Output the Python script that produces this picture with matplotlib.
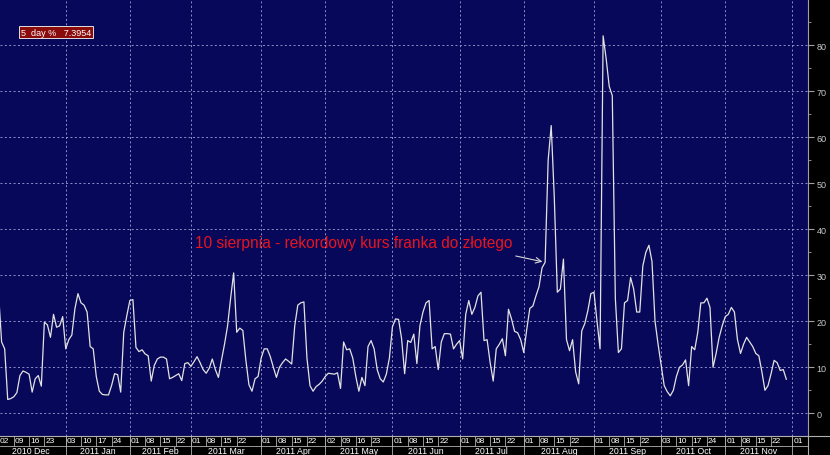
import matplotlib
matplotlib.use('Agg')
import matplotlib.pyplot as plt
from matplotlib.lines import Line2D
import numpy as np

plt.rcParams['font.family'] = ['Liberation Sans', 'DejaVu Sans']

# dane: 5-dniowa zmiennosc (%) w dniach roboczych od 2010-12-02
start_date = '2010-12-02'
vol_5d = [
    26, 15.5, 14, 3, 3.2, 3.6, 4.5, 8.2, 9.2, 8.9, 8.5, 4.6, 7.5, 8.2, 5.9, 19.8, 19.2, 16.5, 21.5, 18.7,
    19, 21, 14, 16, 17, 22.7, 26, 24, 23.5, 22, 14.5, 14, 8, 4.8, 4.1, 4, 4, 6, 8.6, 8.4,
    4.6, 17.6, 21.2, 24.5, 24.7, 14.3, 13.4, 13.8, 12.9, 12.5, 7, 10.4, 11.8, 12.2, 12.2, 11.8, 7.5, 7.8, 8.2, 8.6,
    7.1, 10.8, 11, 10.2, 11.2, 12.3, 11, 9.5, 8.7, 9.8, 11.8, 9.5, 7.8, 11.5, 15, 19, 25, 30.5, 17.6, 18.5,
    18, 11.5, 6.2, 4.8, 7.5, 8, 12, 14, 14, 12.3, 10, 7.8, 10, 11, 11.8, 11.3, 10.7, 19, 23.5, 24,
    24.2, 12, 6, 4.8, 5.8, 6.3, 7, 8, 8.7, 8.6, 8.5, 8.8, 5.4, 15.5, 13.8, 14, 12, 8, 4.8, 7.8,
    6, 14.5, 15.8, 14, 9.5, 7.5, 6.8, 8.5, 12, 18.8, 20.5, 20.4, 16.2, 8.6, 15.8, 15.4, 17.2, 10.8, 19, 22,
    24, 24.5, 14, 14.5, 9.5, 15.5, 17.3, 17.3, 17.2, 14, 15, 15.8, 11.8, 21.5, 24.5, 21.5, 23, 25.5, 26.3, 15.8,
    16, 11, 7, 14, 15, 16.2, 12.5, 22.6, 20.5, 17.8, 17.5, 16, 13.2, 18.3, 22.8, 23.3, 25.5, 27.5, 31.6, 32.8,
    55, 62.5, 47, 26.3, 27, 33.5, 16, 13.6, 16, 9, 6.4, 17.9, 19.5, 22.3, 26, 26.3, 20, 14, 82, 77,
    71, 69, 25, 13.2, 14, 24, 24.5, 29.5, 27, 22, 22, 32, 35, 36.5, 33, 20, 15, 10.5, 6, 4.7,
    3.8, 5, 8, 10, 10.5, 11.6, 6, 14.5, 13.8, 17.6, 24, 24, 25, 23, 10, 13, 16.5, 19, 21, 21.5,
    23, 22, 16, 13, 15, 16.5, 15.5, 14.5, 13, 12.5, 9, 5, 6, 8.6, 11.5, 11, 9.3, 9.5, 7.4,
]
last_value = 7.3954

tick_days = [
    '2010-12-02', '2010-12-09', '2010-12-16', '2010-12-23',
    '2011-01-03', '2011-01-10', '2011-01-17', '2011-01-24',
    '2011-02-01', '2011-02-08', '2011-02-15', '2011-02-22',
    '2011-03-01', '2011-03-08', '2011-03-15', '2011-03-22',
    '2011-04-01', '2011-04-08', '2011-04-15', '2011-04-22',
    '2011-05-02', '2011-05-09', '2011-05-16', '2011-05-23',
    '2011-06-01', '2011-06-08', '2011-06-15', '2011-06-22',
    '2011-07-01', '2011-07-08', '2011-07-15', '2011-07-22',
    '2011-08-01', '2011-08-08', '2011-08-15', '2011-08-22',
    '2011-09-01', '2011-09-08', '2011-09-15', '2011-09-22',
    '2011-10-03', '2011-10-10', '2011-10-17', '2011-10-24',
    '2011-11-01', '2011-11-08', '2011-11-15', '2011-11-22',
    '2011-12-01',
]
months = ['2010-12', '2011-01', '2011-02', '2011-03', '2011-04', '2011-05', '2011-06',
          '2011-07', '2011-08', '2011-09', '2011-10', '2011-11', '2011-12']
month_labels = ['2010 Dec', '2011 Jan', '2011 Feb', '2011 Mar', '2011 Apr', '2011 May',
                '2011 Jun', '2011 Jul', '2011 Aug', '2011 Sep', '2011 Oct', '2011 Nov']

note_text = '10 sierpnia - rekordowy kurs franka do złotego'
note_date = '2011-08-10'

base = '2010-12-01'
bg = '#08085a'
grid_col = '#9090cc'
txt_col = '#c8c8c8'
line_col = '#b0b0b0'

x0 = np.busday_count(base, start_date)
xs = x0 + np.arange(len(vol_5d))
xt = np.busday_count(base, tick_days)
xm = np.array([np.busday_count(base, np.busday_offset(m + '-01', 0, roll='forward')) for m in months])

W, H = 830, 456
fig = plt.figure(figsize=(W / 100, H / 100), dpi=100)
fig.patch.set_facecolor('black')

ax = fig.add_axes([0, 19 / H, 808 / W, 437 / H])
ax.set_facecolor(bg)
ax.plot(xs, vol_5d, color='#e2e2e2', lw=0.9)

xlim = (1.47, 266.1)
ax.set_xlim(*xlim)
ax.set_ylim(-4.93, 90.0)

# siatka
ax.set_yticks(np.arange(0, 81, 10))
ax.set_yticks(np.arange(5, 86, 10), minor=True)
ax.set_xticks(xm[1:])
ax.tick_params(axis='x', length=0, labelbottom=False)
ax.grid(True, color=grid_col, lw=0.7, ls=(0, (2, 2.5)))

ax.yaxis.tick_right()
ax.tick_params(axis='y', which='both', colors='#a0a0a0', labelcolor=txt_col,
               labelsize=6.5, direction='out', pad=2)
ax.tick_params(axis='y', which='major', length=4)
ax.tick_params(axis='y', which='minor', length=2)
for s in ['top', 'left', 'bottom']:
    ax.spines[s].set_visible(False)
ax.spines['right'].set_color('#a0a0a0')
ax.spines['right'].set_linewidth(0.8)

# adnotacja
xn = np.busday_count(base, note_date)
ax.text(65.3, 37.0, note_text, color='#e8141e', fontsize=11.2, va='center', ha='left')
ax.annotate('', xy=(xn, vol_5d[xn - x0]), xytext=(xn - 10.5, 34.3),
            arrowprops=dict(arrowstyle='->', color='#d8d8d8', lw=0.8))

# legenda
fig.text(21 / W, 1 - 33 / H, f'5  day %   {last_value}', color='white', fontsize=6.5,
         va='center', ha='left',
         bbox=dict(facecolor='#8a0b0b', edgecolor='#e0e0e0', lw=0.7, pad=1.2))

# pasek dat
band = fig.add_axes([0, 0, 808 / W, 19 / H])
band.set_facecolor('black')
band.set_xlim(*xlim)
band.set_ylim(0, 1)
band.axis('off')
band.axhline(0.5, color=line_col, lw=0.6)
for t, d in zip(xt, tick_days):
    band.plot([t, t], [0.5, 1], color=line_col, lw=0.6)
    band.text(t + 0.3, 0.75, d[-2:], color='white', fontsize=6, va='center', ha='left')
for m in xm[1:]:
    band.plot([m, m], [0, 1], color=line_col, lw=0.6)
for i, lab in enumerate(month_labels):
    band.text((xm[i] + xm[i + 1]) / 2, 0.22, lab, color='white', fontsize=6.3,
              va='center', ha='center')

# linie ramki siegajace do krawedzi obrazka
fig.add_artist(Line2D([0, 1], [19 / H, 19 / H], color=line_col, lw=0.8))
fig.add_artist(Line2D([808 / W, 808 / W], [0, 19 / H], color=line_col, lw=0.8))

fig.savefig('out.png', dpi=100, facecolor=fig.get_facecolor())
